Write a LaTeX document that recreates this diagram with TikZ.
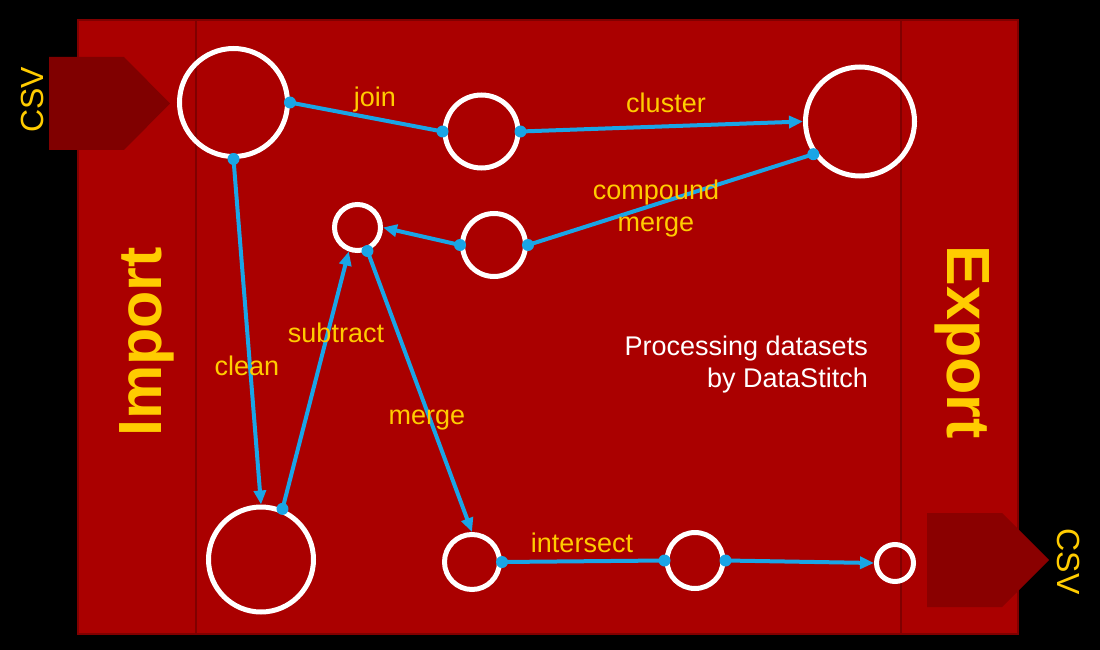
\documentclass[tikz,border=0pt]{standalone}
\usepackage{fontspec}
\setmainfont{Liberation Sans}
\usetikzlibrary{arrows.meta}
\definecolor{bgred}{HTML}{AA0000}
\definecolor{edgered}{HTML}{800000}
\definecolor{csvleft}{HTML}{800000}
\definecolor{csvright}{HTML}{8A0000}
\definecolor{cblue}{HTML}{1AA5E6}
\definecolor{cyellow}{HTML}{FFCC00}
\begin{document}
\begin{tikzpicture}[x=1pt,y=-1pt,
  state/.style={circle,draw=white,line width=5pt,inner sep=0pt,minimum size=#1},
  flow/.style={draw=cblue,line width=4pt,-{Triangle[length=14pt,width=12pt]}},
  link/.style={draw=cblue,line width=4pt},
  dotc/.style={fill=cblue},
  lbl/.style={text=cyellow,font=\fontsize{27}{32}\selectfont,anchor=base,inner sep=0pt},
  big/.style={text=cyellow,font=\fontsize{61}{61}\selectfont\bfseries,anchor=base,inner sep=0pt},
  csvlbl/.style={text=cyellow,font=\fontsize{32}{32}\selectfont,anchor=base,inner sep=0pt},
  note/.style={text=white,font=\fontsize{27}{32}\selectfont,anchor=base east,inner sep=0pt}
]
\fill[black] (0,0) rectangle (1100,650);
\useasboundingbox (0,0) rectangle (1100,650);
% main panel
\filldraw[fill=bgred,draw=edgered,line width=2.5pt] (78,20) rectangle (1018,634);
\draw[edgered,line width=2.5pt] (196,20) -- (196,634);
\draw[edgered,line width=2.5pt] (901,20) -- (901,634);
% CSV arrows
\fill[csvleft] (49,57) -- (124,57) -- (170,103.5) -- (124,150) -- (49,150) -- cycle;
\fill[csvright] (927,513) -- (1002,513) -- (1049,560) -- (1002,607) -- (927,607) -- cycle;
% circles
\node[state=108pt] (A) at (233.5,102.5) {};
\node[state=73pt]  (B) at (481.5,131.5) {};
\node[state=109pt] (C) at (860,121.5) {};
\node[state=46pt]  (D) at (357.5,227.5) {};
\node[state=63pt]  (E) at (494,245) {};
\node[state=105pt] (F) at (261,559.5) {};
\node[state=55pt]  (G) at (472,562) {};
\node[state=56pt]  (H) at (695,560.5) {};
\node[state=37pt]  (I) at (895,563) {};
% connectors
\draw[link] (A.east) -- (B.west);
\draw[flow] (B.east) -- (C.west);
\draw[link] (C.215) -- (E.east);
\draw[flow] (E.west) -- (D.east);
\draw[flow] (A.south) -- (F.north);
\draw[flow] (F.67) -- (D.250);
\draw[flow] (D.293) -- (G.north);
\draw[link] (G.east) -- (H.west);
\draw[flow] (H.east) -- (I.west);
% dots
\foreach \p in {A.east,B.west,B.east,C.215,E.east,E.west,A.south,F.67,D.293,G.east,H.west,H.east}
  \fill[dotc] (\p) circle (6pt);
% labels
\node[lbl] (ljoin) at (375,107) {join};
\node[lbl] (lcluster) at (666,113) {cluster};
\node[lbl] (lcomp) at (656,199) {compound};
\node[lbl] (lcmerge) at (656,231) {merge};
\node[lbl] (lclean) at (247,375) {clean};
\node[lbl] (lsub) at (336,342) {subtract};
\node[lbl] (lmerge) at (427,424) {merge};
\node[lbl] (linter) at (582,552) {intersect};
\node[note] (n1) at (868,355) {Processing datasets};
\node[note] (n2) at (868,387) {by DataStitch};
\node[big,rotate=90] (imp) at (161,342) {Import};
\node[big,rotate=-90] (exp) at (947,342) {Export};
\node[csvlbl,rotate=90] (csv1) at (43,100) {CSV};
\node[csvlbl,rotate=-90] (csv2) at (1057,561.5) {CSV};
\end{tikzpicture}
\end{document}
